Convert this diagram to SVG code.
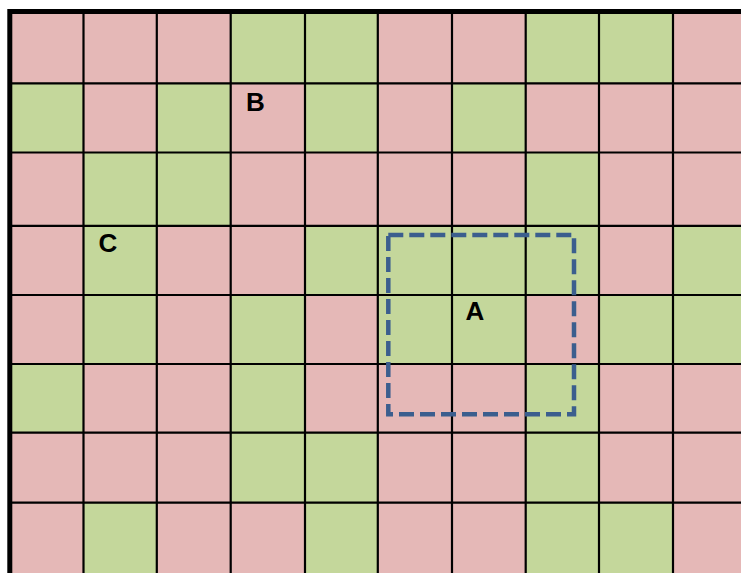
<svg xmlns="http://www.w3.org/2000/svg" width="741" height="573" viewBox="0 0 741 573">
<style>
.p{fill:#E5B8B7}
.g{fill:#C4D79B}
.ln{stroke:#000;stroke-width:2.2;fill:none}
.lbl{font-family:"Liberation Sans",Arial,sans-serif;font-weight:bold;font-size:26px;fill:#000}
</style>
<rect width="741" height="573" fill="#fff"/>
<g id="cells">
<rect class="p" x="9.8" y="11.5" width="73.7" height="71.8"/>
<rect class="p" x="83.5" y="11.5" width="73.3" height="71.8"/>
<rect class="p" x="156.8" y="11.5" width="73.9" height="71.8"/>
<rect class="g" x="230.7" y="11.5" width="74.3" height="71.8"/>
<rect class="g" x="305" y="11.5" width="72.8" height="71.8"/>
<rect class="p" x="377.8" y="11.5" width="74.2" height="71.8"/>
<rect class="p" x="452" y="11.5" width="73.7" height="71.8"/>
<rect class="g" x="525.7" y="11.5" width="73.3" height="71.8"/>
<rect class="g" x="599" y="11.5" width="74" height="71.8"/>
<rect class="p" x="673" y="11.5" width="68" height="71.8"/>
<rect class="g" x="9.8" y="83.3" width="73.7" height="69.2"/>
<rect class="p" x="83.5" y="83.3" width="73.3" height="69.2"/>
<rect class="g" x="156.8" y="83.3" width="73.9" height="69.2"/>
<rect class="p" x="230.7" y="83.3" width="74.3" height="69.2"/>
<rect class="g" x="305" y="83.3" width="72.8" height="69.2"/>
<rect class="p" x="377.8" y="83.3" width="74.2" height="69.2"/>
<rect class="g" x="452" y="83.3" width="73.7" height="69.2"/>
<rect class="p" x="525.7" y="83.3" width="73.3" height="69.2"/>
<rect class="p" x="599" y="83.3" width="74" height="69.2"/>
<rect class="p" x="673" y="83.3" width="68" height="69.2"/>
<rect class="p" x="9.8" y="152.5" width="73.7" height="73.3"/>
<rect class="g" x="83.5" y="152.5" width="73.3" height="73.3"/>
<rect class="g" x="156.8" y="152.5" width="73.9" height="73.3"/>
<rect class="p" x="230.7" y="152.5" width="74.3" height="73.3"/>
<rect class="p" x="305" y="152.5" width="72.8" height="73.3"/>
<rect class="p" x="377.8" y="152.5" width="74.2" height="73.3"/>
<rect class="p" x="452" y="152.5" width="73.7" height="73.3"/>
<rect class="g" x="525.7" y="152.5" width="73.3" height="73.3"/>
<rect class="p" x="599" y="152.5" width="74" height="73.3"/>
<rect class="p" x="673" y="152.5" width="68" height="73.3"/>
<rect class="p" x="9.8" y="225.8" width="73.7" height="69.2"/>
<rect class="g" x="83.5" y="225.8" width="73.3" height="69.2"/>
<rect class="p" x="156.8" y="225.8" width="73.9" height="69.2"/>
<rect class="p" x="230.7" y="225.8" width="74.3" height="69.2"/>
<rect class="g" x="305" y="225.8" width="72.8" height="69.2"/>
<rect class="g" x="377.8" y="225.8" width="74.2" height="69.2"/>
<rect class="g" x="452" y="225.8" width="73.7" height="69.2"/>
<rect class="g" x="525.7" y="225.8" width="73.3" height="69.2"/>
<rect class="p" x="599" y="225.8" width="74" height="69.2"/>
<rect class="g" x="673" y="225.8" width="68" height="69.2"/>
<rect class="p" x="9.8" y="295" width="73.7" height="69"/>
<rect class="g" x="83.5" y="295" width="73.3" height="69"/>
<rect class="p" x="156.8" y="295" width="73.9" height="69"/>
<rect class="g" x="230.7" y="295" width="74.3" height="69"/>
<rect class="p" x="305" y="295" width="72.8" height="69"/>
<rect class="g" x="377.8" y="295" width="74.2" height="69"/>
<rect class="g" x="452" y="295" width="73.7" height="69"/>
<rect class="p" x="525.7" y="295" width="73.3" height="69"/>
<rect class="g" x="599" y="295" width="74" height="69"/>
<rect class="g" x="673" y="295" width="68" height="69"/>
<rect class="g" x="9.8" y="364" width="73.7" height="68.7"/>
<rect class="p" x="83.5" y="364" width="73.3" height="68.7"/>
<rect class="p" x="156.8" y="364" width="73.9" height="68.7"/>
<rect class="g" x="230.7" y="364" width="74.3" height="68.7"/>
<rect class="p" x="305" y="364" width="72.8" height="68.7"/>
<rect class="p" x="377.8" y="364" width="74.2" height="68.7"/>
<rect class="p" x="452" y="364" width="73.7" height="68.7"/>
<rect class="g" x="525.7" y="364" width="73.3" height="68.7"/>
<rect class="p" x="599" y="364" width="74" height="68.7"/>
<rect class="p" x="673" y="364" width="68" height="68.7"/>
<rect class="p" x="9.8" y="432.7" width="73.7" height="70"/>
<rect class="p" x="83.5" y="432.7" width="73.3" height="70"/>
<rect class="p" x="156.8" y="432.7" width="73.9" height="70"/>
<rect class="g" x="230.7" y="432.7" width="74.3" height="70"/>
<rect class="g" x="305" y="432.7" width="72.8" height="70"/>
<rect class="p" x="377.8" y="432.7" width="74.2" height="70"/>
<rect class="p" x="452" y="432.7" width="73.7" height="70"/>
<rect class="g" x="525.7" y="432.7" width="73.3" height="70"/>
<rect class="p" x="599" y="432.7" width="74" height="70"/>
<rect class="p" x="673" y="432.7" width="68" height="70"/>
<rect class="p" x="9.8" y="502.7" width="73.7" height="70.3"/>
<rect class="g" x="83.5" y="502.7" width="73.3" height="70.3"/>
<rect class="p" x="156.8" y="502.7" width="73.9" height="70.3"/>
<rect class="p" x="230.7" y="502.7" width="74.3" height="70.3"/>
<rect class="g" x="305" y="502.7" width="72.8" height="70.3"/>
<rect class="p" x="377.8" y="502.7" width="74.2" height="70.3"/>
<rect class="p" x="452" y="502.7" width="73.7" height="70.3"/>
<rect class="g" x="525.7" y="502.7" width="73.3" height="70.3"/>
<rect class="g" x="599" y="502.7" width="74" height="70.3"/>
<rect class="p" x="673" y="502.7" width="68" height="70.3"/>
</g>
<g id="gridlines" class="ln">
<path d="M83.5 11.5V573M156.8 11.5V573M230.7 11.5V573M305 11.5V573M377.8 11.5V573M452 11.5V573M525.7 11.5V573M599 11.5V573M673 11.5V573"/>
<path d="M9.8 83.3H741M9.8 152.5H741M9.8 225.8H741M9.8 295H741M9.8 364H741M9.8 432.7H741M9.8 502.7H741"/>
</g>
<g id="border">
<path d="M9.8 573V11.5H741" fill="none" stroke="#000" stroke-width="5"/>
</g>
<g id="region-A">
<rect x="388.3" y="235" width="185.7" height="179.3" fill="none" stroke="#3B5E8E" stroke-width="4.5" stroke-dasharray="15 6"/>
</g>
<g id="label-A"><text class="lbl" x="465.5" y="320">A</text></g>
<g id="label-B"><text class="lbl" x="246" y="110.5">B</text></g>
<g id="label-C"><text class="lbl" x="98.5" y="251.5">C</text></g>
</svg>
